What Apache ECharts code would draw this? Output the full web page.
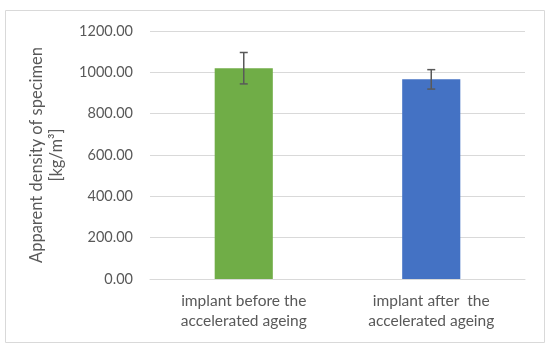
<!DOCTYPE html>
<html><head><meta charset="utf-8">
<script src="https://cdn.jsdelivr.net/npm/echarts@6/dist/echarts.min.js"></script>
<style>html,body{margin:0;padding:0;background:#fff}#c{width:550px;height:350px}</style>
</head><body><div id="c"></div>
<script>
const categories = ['implant before the\naccelerated ageing', 'implant after  the\naccelerated ageing'];
const values = [1020, 966];
const errors = [76, 47];
const barColors = ['#70AD47', '#4472C4'];
const yTicks = [0, 200, 400, 600, 800, 1000, 1200];

const chart = echarts.init(document.getElementById('c'), null, {renderer: 'canvas'});
const font = 'Lato, "Open Sans", sans-serif';
chart.setOption({
  animation: false,
  graphic: [{type: 'rect', shape: {x: 5.5, y: 10.5, width: 539, height: 332}, style: {fill: 'none', stroke: '#d9d9d9', lineWidth: 1}, z: -1}],
  grid: {left: 150, right: 25, top: 31, bottom: 71},
  xAxis: {
    type: 'category', data: categories,
    axisLine: {show: true, lineStyle: {color: '#d9d9d9'}},
    axisTick: {show: false},
    axisLabel: {color: '#595959', fontSize: 15.5, fontFamily: font, lineHeight: 20, margin: 12}
  },
  yAxis: {
    type: 'value', min: yTicks[0], max: yTicks[yTicks.length - 1], interval: 200,
    name: 'Apparent density of specimen\n[kg/m³]',
    nameLocation: 'middle', nameRotate: 90, nameGap: 83,
    nameTextStyle: {color: '#595959', fontSize: 16.5, fontFamily: font, lineHeight: 20},
    axisLine: {show: false}, axisTick: {show: false},
    splitLine: {lineStyle: {color: '#d9d9d9', width: 1}},
    axisLabel: {color: '#595959', fontSize: 14.5, fontFamily: font, margin: 17, formatter: v => v.toFixed(2)}
  },
  series: [{
    type: 'bar', barWidth: '31%',
    data: values.map((v, i) => ({value: v, itemStyle: {color: barColors[i]}}))
  }, {
    type: 'custom',
    data: values.map((v, i) => [i, v - errors[i], v + errors[i]]),
    renderItem: function (params, api) {
      const lo = api.coord([api.value(0), api.value(1)]);
      const hi = api.coord([api.value(0), api.value(2)]);
      const w = 4;
      const st = {stroke: '#595959', lineWidth: 1.5};
      return {type: 'group', children: [
        {type: 'line', shape: {x1: hi[0], y1: hi[1], x2: lo[0], y2: lo[1]}, style: st},
        {type: 'line', shape: {x1: hi[0] - w, y1: hi[1], x2: hi[0] + w, y2: hi[1]}, style: st},
        {type: 'line', shape: {x1: lo[0] - w, y1: lo[1], x2: lo[0] + w, y2: lo[1]}, style: st}
      ]};
    },
    z: 10
  }]
});
</script></body></html>
